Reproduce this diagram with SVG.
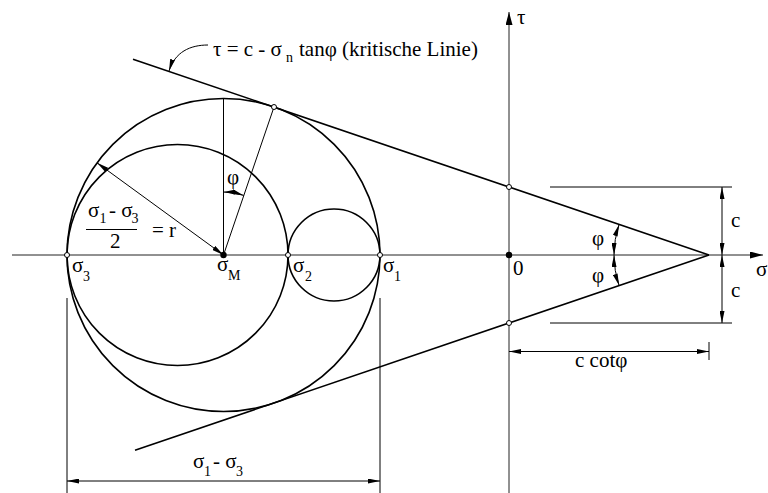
<svg xmlns="http://www.w3.org/2000/svg" width="768" height="493" viewBox="0 0 768 493">
<defs>
<marker id="ah" viewBox="0 0 12 5" refX="12" refY="2.5" markerWidth="12" markerHeight="5" orient="auto-start-reverse" markerUnits="userSpaceOnUse"><path d="M0,0 L12,2.5 L0,5 z" fill="#000"/></marker>
<marker id="axh" viewBox="0 0 13 7" refX="13" refY="3.5" markerWidth="13" markerHeight="7" orient="auto" markerUnits="userSpaceOnUse"><path d="M0,0 L13,3.5 L0,7 z" fill="#000"/></marker>
<style>
.ax{stroke:#222;stroke-width:1;fill:none}
.thick{stroke:#000;stroke-width:1.6;fill:none}
.thin{stroke:#000;stroke-width:1;fill:none}
.dim{stroke:#000;stroke-width:1;fill:none;marker-start:url(#ah);marker-end:url(#ah)}
.pt{fill:#fff;stroke:#000;stroke-width:1}
.dot{fill:#000}
text{font-family:"Liberation Serif","Times New Roman",serif;font-size:21px;fill:#000}
.sub{font-size:14px}
</style>
</defs>

<g id="axes">
<line class="ax" x1="12" y1="255" x2="763" y2="255" marker-end="url(#axh)"/>
<line class="ax" x1="509" y1="493" x2="509" y2="12" marker-end="url(#axh)"/>
<text x="517" y="24">τ</text>
<text x="756" y="276">σ</text>
<text x="513" y="275">0</text>
</g>

<g id="circles">
<circle id="circle-big" class="thick" cx="223.5" cy="255" r="156.5"/>
<circle id="circle-left" class="thick" cx="177.5" cy="255" r="110.5"/>
<circle id="circle-right" class="thick" cx="334" cy="255" r="46"/>
</g>

<g id="connectors">
<line id="tangent-upper" class="thick" x1="133" y1="59.2" x2="709" y2="255"/>
<line id="tangent-lower" class="thick" x1="135" y1="450.2" x2="709" y2="255"/>
<line class="thin" x1="223.5" y1="255" x2="223.5" y2="98.5"/>
<line class="thin" x1="223.5" y1="255" x2="274" y2="107"/>
<line class="dim" x1="97" y1="162.8" x2="223.5" y2="255"/>
<path class="dim" d="M223.5,192 A63,63 0 0 1 243.8,195.4"/>
<path class="thin" d="M208,45 C190,45 175,52 169,71" marker-end="url(#ah)"/>
<path class="dim" d="M619.1,224.4 A95,95 0 0 0 614,255"/>
<path class="dim" d="M614,255 A95,95 0 0 0 619.1,285.6"/>
<line class="thin" x1="550" y1="187" x2="732" y2="187"/>
<line class="thin" x1="550" y1="323" x2="732" y2="323"/>
<line class="dim" x1="722" y1="187" x2="722" y2="255"/>
<line class="dim" x1="722" y1="255" x2="722" y2="323"/>
<line class="dim" x1="509" y1="351.5" x2="709" y2="351.5"/>
<line class="thin" x1="709" y1="342" x2="709" y2="360"/>
<line class="thin" x1="67" y1="298" x2="67" y2="493"/>
<line class="thin" x1="380" y1="298" x2="380" y2="493"/>
<line class="dim" x1="67" y1="481" x2="380" y2="481"/>
<line class="thin" x1="86" y1="229.5" x2="137" y2="229.5"/>
</g>

<g id="points">
<circle class="pt" cx="67" cy="255" r="2.5"/>
<circle class="pt" cx="288" cy="255" r="2.5"/>
<circle class="pt" cx="380" cy="255" r="2.5"/>
<circle class="pt" cx="274" cy="107" r="2.5"/>
<circle class="pt" cx="509" cy="187" r="2.5"/>
<circle class="pt" cx="509" cy="323" r="2.5"/>
<circle class="dot" cx="223.5" cy="255" r="3.2"/>
<circle class="dot" cx="509" cy="255" r="3.2"/>
</g>

<g id="labels">
<text x="213" y="56">τ = c - σ</text>
<text class="sub" x="286" y="62">n</text>
<text x="299" y="56">tanφ (kritische Linie)</text>
<text x="88" y="217">σ</text><text class="sub" x="99.5" y="223">1</text><text x="109" y="217">- σ</text><text class="sub" x="131.5" y="223">3</text>
<text x="110" y="248">2</text>
<text x="152" y="237">= r</text>
<text x="227" y="184">φ</text>
<text x="72" y="272">σ</text><text class="sub" x="83" y="281">3</text>
<text x="217" y="271">σ</text><text class="sub" x="228" y="280">M</text>
<text x="293" y="272">σ</text><text class="sub" x="305" y="281">2</text>
<text x="383" y="272">σ</text><text class="sub" x="394" y="281">1</text>
<text x="592" y="245">φ</text>
<text x="592" y="282">φ</text>
<text x="731" y="227">c</text>
<text x="731" y="297">c</text>
<text x="575" y="367">c cotφ</text>
<text x="193" y="468">σ</text><text class="sub" x="204" y="476">1</text><text x="213" y="468">- σ</text><text class="sub" x="236" y="476">3</text>
</g>
</svg>
